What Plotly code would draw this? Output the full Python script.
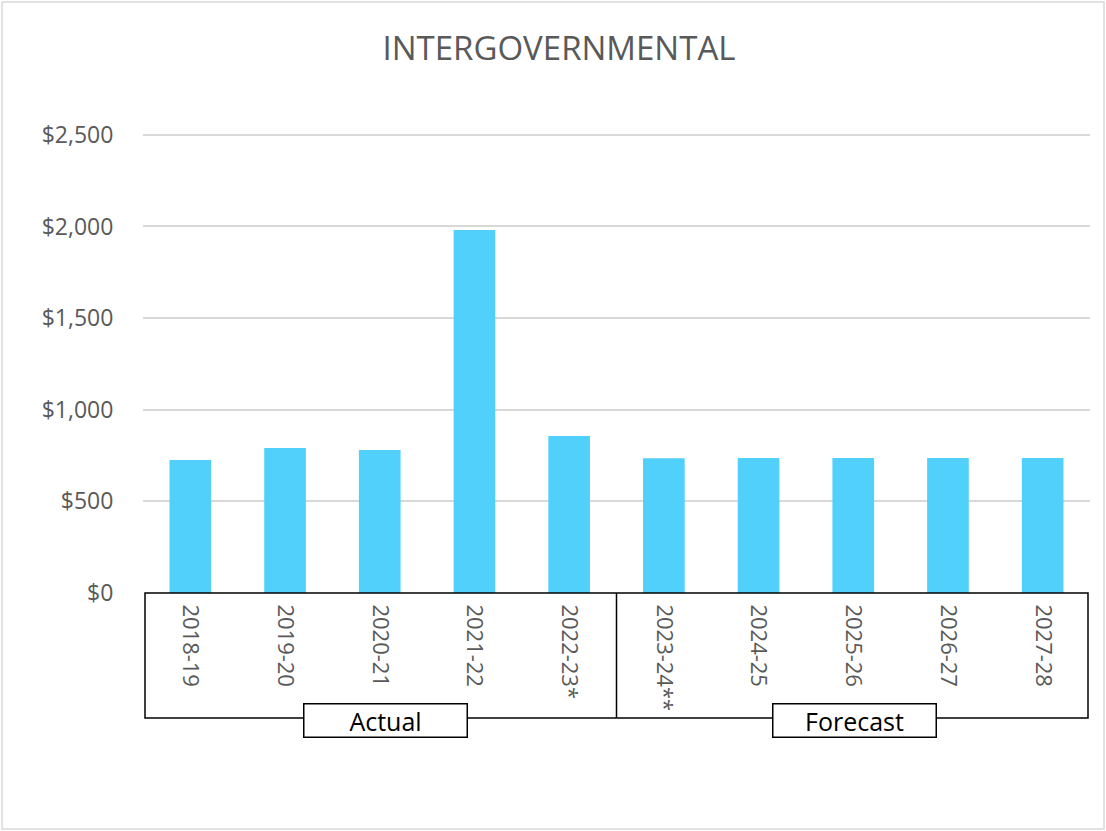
import plotly.graph_objects as go

categories = ["2018-19", "2019-20", "2020-21", "2021-22", "2022-23*",
              "2023-24**", "2024-25", "2025-26", "2026-27", "2027-28"]
values = [726, 791, 780, 1981, 857, 735, 737, 737, 736, 736]
y_ticks = [0, 500, 1000, 1500, 2000, 2500]
y_labels = ["$0", "$500", "$1,000", "$1,500", "$2,000", "$2,500"]
group_labels = ["Actual", "Forecast"]

W, H = 1106, 831
L, R, T, B = 143, 16, 133, 238
YMAX = 2510
pw, ph = W - L - R, H - T - B

def px(x):
    return (x - L) / pw

def py(y):
    return (H - B - y) / ph

FONT = "Open Sans"
GRAY = "#595959"

fig = go.Figure(go.Bar(x=categories, y=values, marker_color="#52D0FC",
                       width=0.44, marker_line_width=0))

shapes = []
# outer chart border
shapes.append(dict(type="rect", xref="paper", yref="paper",
                   x0=px(2), x1=px(1104), y0=py(829), y1=py(2),
                   line=dict(color="#d9d9d9", width=1.5), layer="below"))
# box around category axis
shapes.append(dict(type="rect", xref="paper", yref="paper",
                   x0=px(145), x1=px(1088), y0=py(718), y1=py(593),
                   line=dict(color="black", width=1.5)))
# divider between actual and forecast
shapes.append(dict(type="line", xref="x", yref="paper",
                   x0=4.5, x1=4.5, y0=py(718), y1=py(593),
                   line=dict(color="black", width=1.5)))
fig.update_layout(shapes=shapes)

for label, cx in zip(group_labels, [385, 854]):
    fig.add_annotation(text=label, xref="paper", yref="paper",
                       x=px(cx), y=py(720), showarrow=False,
                       xanchor="center", yanchor="middle",
                       width=160, height=30, bgcolor="white",
                       bordercolor="black", borderwidth=1.5,
                       font=dict(family=FONT, size=25, color="black"))

fig.update_layout(
    width=W, height=H,
    margin=dict(l=L, r=R, t=T, b=B, autoexpand=False),
    paper_bgcolor="white", plot_bgcolor="white",
    title=dict(text="INTERGOVERNMENTAL", x=559 / W, xref="container",
               y=1 - 48 / H, yanchor="middle", xanchor="center",
               font=dict(family=FONT, size=33, color=GRAY)),
    showlegend=False,
    bargap=0.56,
    xaxis=dict(type="category", tickangle=90, showgrid=False, showline=False,
               ticks="outside", ticklen=6, tickcolor="rgba(0,0,0,0)",
               tickfont=dict(family=FONT, size=22, color=GRAY)),
    yaxis=dict(range=[0, YMAX], tickvals=y_ticks, ticktext=y_labels,
               showgrid=True, gridcolor="#d9d9d9", gridwidth=1.5,
               zeroline=False, showline=False, ticks="outside", ticklen=24,
               tickcolor="rgba(0,0,0,0)",
               tickfont=dict(family=FONT, size=23, color=GRAY)),
)

fig.write_html("out.html", config={"displayModeBar": False},
               post_script="document.body.style.margin='0';")
